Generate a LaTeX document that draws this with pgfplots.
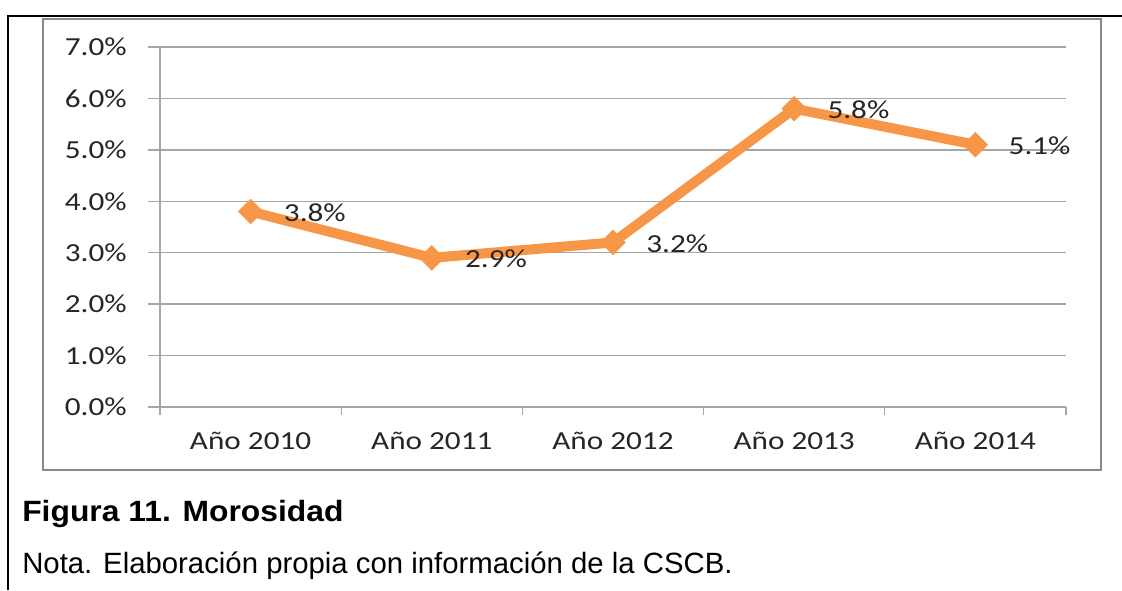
\documentclass[border=0pt]{standalone}
\usepackage{pgfplots}
\pgfplotsset{compat=1.18}
\usepackage{fontspec}
\setmainfont{Liberation Sans}
\newfontfamily\calfont[FakeStretch=1.2]{Carlito}
\newfontfamily\titfont[FakeStretch=1.085]{Liberation Sans}
\definecolor{excelorange}{HTML}{F79646}
\definecolor{gridgray}{HTML}{A6A6A6}
\definecolor{framegray}{HTML}{898989}
\begin{document}
\begin{tikzpicture}
\useasboundingbox (0,0) rectangle (841.5pt,442.5pt);
\fill[white] (0,0) rectangle (841.5pt,442.5pt);
\draw[black, line width=2pt] (6pt,0) -- (6pt,430.5pt) -- (841.5pt,430.5pt);
\draw[framegray, line width=1.75pt] (32.25pt,90pt) rectangle (825.75pt,428.25pt);
\begin{axis}[
  at={(120pt,137.25pt)}, anchor=south west,
  scale only axis, width=679.5pt, height=270pt,
  xmin=-0.5, xmax=4.5, ymin=0, ymax=7,
  axis x line*=bottom, axis y line*=left,
  axis line style={gridgray, line width=1pt, -},
  tick align=outside,
  major tick length=9pt, minor tick length=6pt,
  tick style={gridgray, line width=1pt},
  ytick={0,1,...,7},
  yticklabels={0.0\%,1.0\%,2.0\%,3.0\%,4.0\%,5.0\%,6.0\%,7.0\%},
  xtick={0,1,2,3,4},
  xticklabels={Año 2010,Año 2011,Año 2012,Año 2013,Año 2014},
  every major x tick/.append style={draw=none},
  minor xtick={-0.5,0.5,1.5,2.5,3.5,4.5},
  ymajorgrids,
  grid style={gridgray, line width=1pt},
  ticklabel style={font=\calfont\fontsize{19.5pt}{23pt}\selectfont, text=black!85},
  yticklabel style={anchor=east, inner sep=0pt, xshift=-15.75pt},
  xticklabel style={anchor=north, inner sep=0pt, yshift=-9.75pt},
  clip=false,
  point meta=explicit symbolic,
  nodes near coords,
  every node near coord/.append style={anchor=west, inner sep=0pt, xshift=24.75pt, yshift=-1pt, font=\calfont\fontsize{19.5pt}{23pt}\selectfont, text=black!85},
]
\addplot[color=excelorange, line width=7.5pt, mark=square*, mark size=6.5pt,
  mark options={rotate=45, fill=excelorange, draw=excelorange, line width=0.5pt}]
  coordinates {(0,3.8) [3.8\%] (1,2.9) [2.9\%] (2,3.2) [3.2\%] (3,5.8) [5.8\%] (4,5.1) [5.1\%]};
\end{axis}
\node[anchor=base west, inner sep=0pt, font=\titfont\bfseries\fontsize{22pt}{26pt}\selectfont] at (16.5pt,51.75pt) {Figura 11. Morosidad};
\node[anchor=base west, inner sep=0pt, font=\fontsize{22pt}{26pt}\selectfont] at (16.5pt,12.75pt) {Nota. Elaboración propia con información de la CSCB.};
\end{tikzpicture}
\end{document}
